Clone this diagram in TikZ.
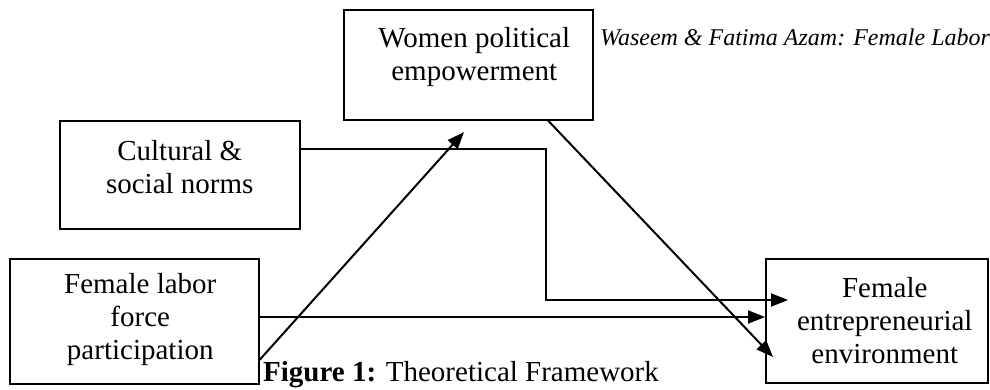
\documentclass[tikz,border=0pt]{standalone}
\usepackage{fontspec}
\setmainfont{Liberation Serif}
\usetikzlibrary{positioning,arrows.meta}
\begin{document}
\begin{tikzpicture}[x=1pt,y=-1pt,
    box/.style={draw, line width=1.5pt, inner sep=0pt, anchor=north west},
    txt/.style={align=center, inner sep=0pt, font=\fontsize{29}{33}\selectfont},
    arr/.style={line width=2pt, -{Triangle[length=17pt,width=13pt]}}]
      \useasboundingbox (0,0) rectangle (990,389);

      \node[box, minimum width=249pt, minimum height=110pt] (wpe) at (343,9) {};
      \node[box, minimum width=240pt, minimum height=108pt] (csn) at (59,120) {};
      \node[box, minimum width=249pt, minimum height=125pt] (flfp) at (9,258) {};
      \node[box, minimum width=222pt, minimum height=124pt] (fee) at (765,258) {};

      \node[txt, below=18pt of wpe.north, xshift=6pt] (wpetxt) {Women political\\empowerment};
      \node[txt, below=20pt of csn.north] (csntxt) {Cultural \&\\social norms};
      \node[txt, below=15pt of flfp.north, xshift=6pt] (flfptxt) {Female labor\\force\\participation};
      \node[txt, below=19pt of fee.north, xshift=8pt] (feetxt) {Female\\entrepreneurial\\environment};

      \node[anchor=base west, inner sep=0pt, font=\fontsize{24}{28}\selectfont\itshape] (hdr) at (600,45) {Waseem \& Fatima Azam: Female Labor};
      \node[anchor=base west, inner sep=0pt, font=\fontsize{29}{33}\selectfont] (cap) at (263,381) {\textbf{Figure 1:} Theoretical Framework};

      \coordinate (bend) at (546,149);
      \coordinate (tipc) at (788,300);
      \draw[arr] (csn.east |- bend) -- (bend) |- (tipc);
      \draw[arr] (flfp.east |- 0,317) -- (fee.west |- 0,317);
      \coordinate (tipw) at (464,132);
      \draw[arr] (flfp.east |- 0,360) -- (tipw);
      \coordinate (tipe) at (773,357);
      \draw[arr] (548,0 |- wpe.south) -- (tipe);
    \end{tikzpicture}
\end{document}
